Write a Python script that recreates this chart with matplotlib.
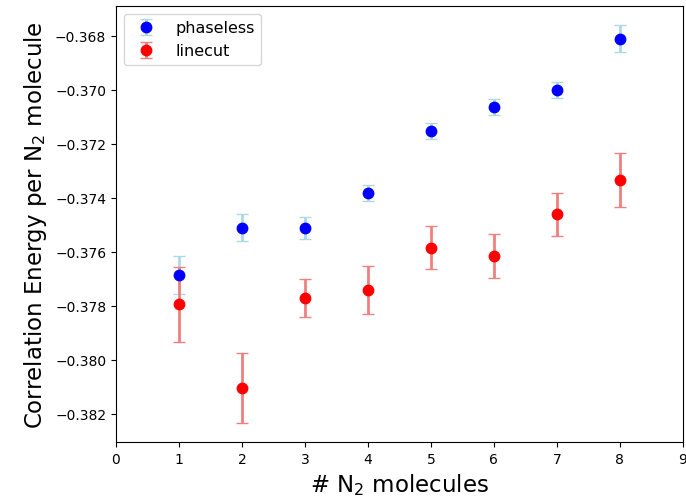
import matplotlib
matplotlib.use("Agg")
import matplotlib.pyplot as plt

n_molecules = [1, 2, 3, 4, 5, 6, 7, 8]

phaseless_energy = [-0.37685, -0.37511, -0.37511, -0.37381, -0.37153, -0.37062, -0.37001, -0.36811]
phaseless_err = [0.0007, 0.0005, 0.0004, 0.0003, 0.0003, 0.0003, 0.0003, 0.0005]

linecut_energy = [-0.37794, -0.38105, -0.37770, -0.37741, -0.37584, -0.37615, -0.37460, -0.37332]
linecut_err = [0.0014, 0.0013, 0.0007, 0.0009, 0.0008, 0.0008, 0.0008, 0.0010]

fig = plt.figure(figsize=(6.86, 5.02), dpi=100)
ax = fig.add_axes([0.169, 0.1175, 0.8265, 0.8685])

ax.errorbar(n_molecules, phaseless_energy, yerr=phaseless_err, fmt='o', color='blue',
            ecolor='lightblue', elinewidth=2, capsize=4, markersize=7.5, label='phaseless')
ax.errorbar(n_molecules, linecut_energy, yerr=linecut_err, fmt='o', color='red',
            ecolor='lightcoral', elinewidth=2, capsize=4, markersize=7.5, label='linecut')

ax.set_xlim(0, 9)
ax.set_ylim(-0.38304, -0.36689)
ax.set_xticks(range(10))
ax.set_xlabel('# N$_2$ molecules', fontsize=16.5)
ax.set_ylabel('Correlation Energy per N$_2$ molecule', fontsize=16.5)
ax.legend(loc='upper left', fontsize=11.5)

fig.savefig('out.png', dpi=100)
